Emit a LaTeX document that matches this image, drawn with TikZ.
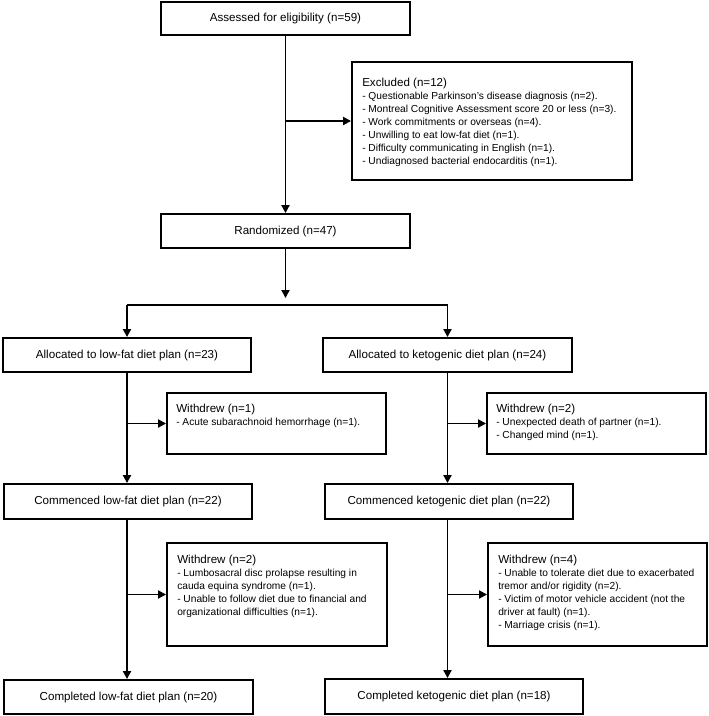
\documentclass[tikz,border=0pt]{standalone}
\usepackage{fontspec}
\setmainfont{Liberation Sans}
\usetikzlibrary{arrows.meta}
\newcommand\tfont{\fontsize{11.6}{13}\selectfont}
\newcommand\ifont{\fontsize{10.2}{13}\selectfont}
\newcommand\trow[1]{\hbox{\tfont #1}}
\newcommand\irow[1]{\hbox{\ifont #1}}
\newcommand\blk[1]{\vtop{\baselineskip=13pt\lineskiplimit=-20pt #1}}
\begin{document}
\begin{tikzpicture}[x=1pt,y=1pt,
  box/.style={draw, line width=1.9pt, inner sep=0pt, font=\tfont},
  arr/.style={line width=1.9pt, -{Triangle[length=8pt,width=8pt]}},
  ln/.style={line width=1.9pt},
  txt/.style={inner sep=0pt, anchor=base west}]
\useasboundingbox (0,0) rectangle (709,-716);

% boxes
\node[box, minimum width=249, minimum height=33] (a) at (285.5,-18.5) {Assessed for eligibility (n=59)};
\node[box, minimum width=280, minimum height=118] (ex) at (492,-121) {};
\node[box, minimum width=249, minimum height=34] (r) at (285.5,-231) {Randomized (n=47)};
\node[box, minimum width=248, minimum height=34] (al) at (127,-355) {Allocated to low-fat diet plan (n=23)};
\node[box, minimum width=249, minimum height=34] (ak) at (447.5,-355) {Allocated to ketogenic diet plan (n=24)};
\node[box, minimum width=219, minimum height=61] (w1) at (276.5,-423.5) {};
\node[box, minimum width=219, minimum height=61] (w2) at (596.5,-423.5) {};
\node[box, minimum width=248, minimum height=35] (cl) at (128,-501.5) {Commenced low-fat diet plan (n=22)};
\node[box, minimum width=248, minimum height=35] (ck) at (449,-501.5) {Commenced ketogenic diet plan (n=22)};
\node[box, minimum width=220, minimum height=103] (w3) at (277,-594.5) {};
\node[box, minimum width=219, minimum height=103] (w4) at (597.5,-594.5) {};
\node[box, minimum width=249, minimum height=34] (col) at (128.5,-697) {Completed low-fat diet plan (n=20)};
\node[box, minimum width=258, minimum height=35] (cok) at (454,-696.5) {Completed ketogenic diet plan (n=18)};

% texts in the larger boxes
\node[txt] (ext) at ([xshift=11, yshift=-25]ex.north west) {\blk{%
  \trow{Excluded (n=12)}%
  \irow{- Questionable Parkinson’s disease diagnosis (n=2).}%
  \irow{- Montreal Cognitive Assessment score 20 or less (n=3).}%
  \irow{- Work commitments or overseas (n=4).}%
  \irow{- Unwilling to eat low-fat diet (n=1).}%
  \irow{- Difficulty communicating in English (n=1).}%
  \irow{- Undiagnosed bacterial endocarditis (n=1).}}};
\node[txt] (w1t) at ([xshift=10, yshift=-20]w1.north west) {\blk{%
  \trow{Withdrew (n=1)}%
  \irow{- Acute subarachnoid hemorrhage (n=1).}}};
\node[txt] (w2t) at ([xshift=10, yshift=-20]w2.north west) {\blk{%
  \trow{Withdrew (n=2)}%
  \irow{- Unexpected death of partner (n=1).}%
  \irow{- Changed mind (n=1).}}};
\node[txt] (w3t) at ([xshift=11, yshift=-21]w3.north west) {\blk{%
  \trow{Withdrew (n=2)}%
  \irow{- Lumbosacral disc prolapse resulting in}%
  \irow{cauda equina syndrome (n=1).}%
  \irow{- Unable to follow diet due to financial and}%
  \irow{organizational difficulties (n=1).}}};
\node[txt] (w4t) at ([xshift=11, yshift=-21]w4.north west) {\blk{%
  \trow{Withdrew (n=4)}%
  \irow{- Unable to tolerate diet due to exacerbated}%
  \irow{tremor and/or rigidity (n=2).}%
  \irow{- Victim of motor vehicle accident (not the}%
  \irow{driver at fault) (n=1).}%
  \irow{- Marriage crisis (n=1).}}};

% connectors
\coordinate (split) at (a.south |- 0,-305);
\draw[arr] (a.south) -- (a.south |- r.north);
\draw[arr] (a.south |- ex.west) -- (ex.west);
\draw[arr] (r.south) -- ([yshift=7]split);
\draw[ln] (al.north |- split) -- (ak.north |- split);
\draw[arr] (al.north |- split) -- (al.north);
\draw[arr] (ak.north |- split) -- (ak.north);
\draw[arr] (al.south) -- (al.south |- cl.north);
\draw[arr] (al.south |- w1.west) -- (w1.west);
\draw[arr] (ak.south) -- (ak.south |- ck.north);
\draw[arr] (ak.south |- w2.west) -- (w2.west);
\draw[arr] (al.south |- cl.south) -- (al.south |- col.north);
\draw[arr] (al.south |- w3.west) -- (w3.west);
\draw[arr] (ak.south |- ck.south) -- (ak.south |- cok.north);
\draw[arr] (ak.south |- w4.west) -- (w4.west);
\end{tikzpicture}
\end{document}
